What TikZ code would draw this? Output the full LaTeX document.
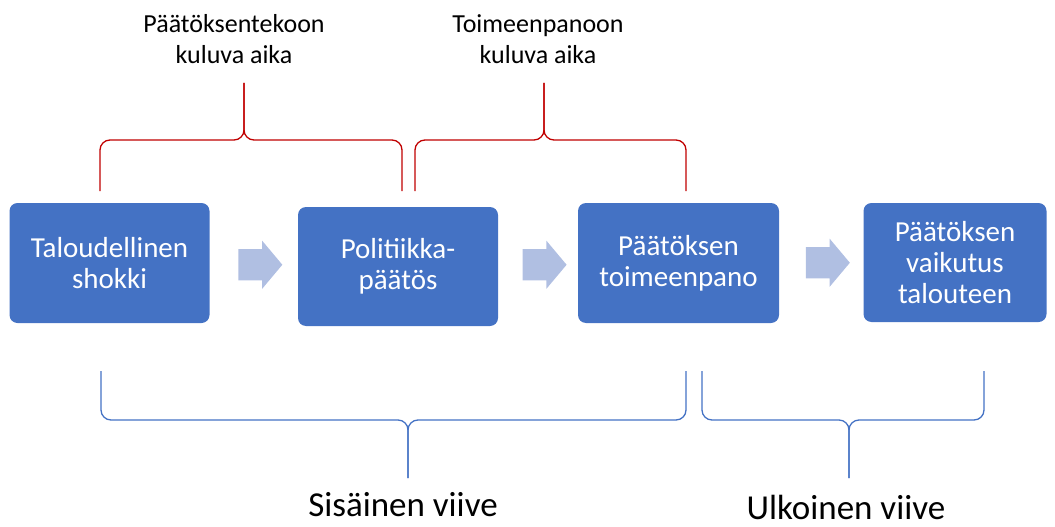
\documentclass[tikz,border=0pt]{standalone}
\usepackage{fontspec}
\setmainfont{Carlito}
\usetikzlibrary{shapes.arrows,calc}
\definecolor{boxblue}{HTML}{4472C4}
\definecolor{arrowblue}{HTML}{B0BFE2}
\definecolor{bracered}{HTML}{C00000}

\begin{document}
\begin{tikzpicture}[
		x=1pt,y=-1pt,
		vaihe/.style={rectangle,rounded corners=8pt,fill=boxblue,text=white,align=center,
			minimum width=200pt,minimum height=120pt,inner sep=0pt,font=\fontsize{29}{31}\selectfont},
		nuoli/.style={single arrow,fill=arrowblue,minimum height=44pt,inner xsep=0pt,inner ysep=15.5pt,
			single arrow head extend=8.5pt,single arrow tip angle=100},
		punainen/.style={draw=bracered,line width=1.3pt,rounded corners=10pt},
		sininen/.style={draw=boxblue,line width=1.3pt,rounded corners=10pt},
		otsikko/.style={align=center,font=\fontsize{26}{31}\selectfont},
		viive/.style={font=\fontsize{35}{40}\selectfont,inner sep=1pt}
		]
		\useasboundingbox (0,0) rectangle (1055,527);
		
		% vaiheet
		\node[vaihe] (shokki) at (109.5,263) {Taloudellinen\\shokki};
		\node[vaihe,minimum height=119pt] (paatos) at (398,266.5) {Politiikka-\\päätös};
		\node[vaihe,minimum width=201pt] (toimeenpano) at (678.5,263) {Päätöksen\\toimeenpano};
		\node[vaihe,minimum width=183pt,minimum height=119pt] (vaikutus) at (955,262.5) {Päätöksen\\vaikutus\\talouteen};
		
		\node[nuoli] (n1) at ($(shokki.east)!0.5!(paatos.west)$) {};
		\node[nuoli] (n2) at ($(paatos.east)!0.5!(toimeenpano.west)$) {};
		\node[nuoli] (n3) at ($(toimeenpano.east)!0.5!(vaikutus.west)$) {};
		
		% ylakaaret
		\draw[punainen] (100,191) -- (100,140) -- (244,140) -- (244,83);
		\draw[punainen] (244,83) -- (244,140) -- (402,140) -- (402,191);
		\draw[punainen] (415,191) -- (415,140) -- (544,140) -- (544,83);
		\draw[punainen] (544,83) -- (544,140) -- (686,140) -- (686,191);
		\node[otsikko] (tekoaika) at (234,39) {Päätöksentekoon\\kuluva aika};
		\node[otsikko] (panoaika) at (538,39) {Toimeenpanoon\\kuluva aika};
		
		% alakaaret
		\draw[sininen] (101,371) -- (101,420) -- (408,420) -- (408,478);
		\draw[sininen] (408,478) -- (408,420) -- (686,420) -- (686,371);
		\draw[sininen] (702,371) -- (702,420) -- (849,420) -- (849,478);
		\draw[sininen] (849,478) -- (849,420) -- (984,420) -- (984,371);
		\node[viive,anchor=base] (sisainen) at (403,516) {Sisäinen viive};
		\node[viive,anchor=base] (ulkoinen) at (846,519) {Ulkoinen viive};
		\end{tikzpicture}
\end{document}
